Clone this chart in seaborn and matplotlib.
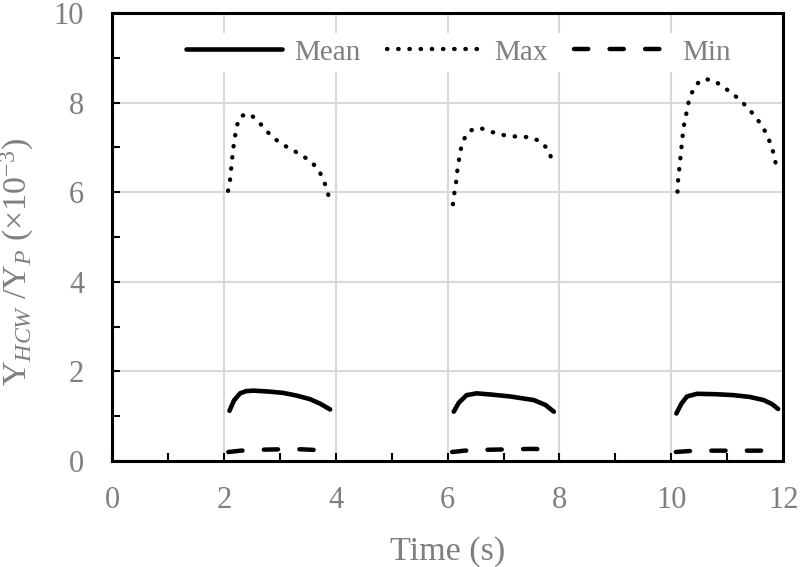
import pandas as pd
import matplotlib
matplotlib.use("Agg")
import matplotlib.pyplot as plt
from matplotlib.lines import Line2D
from matplotlib.ticker import MultipleLocator
import seaborn as sns

# Max curves (three injection pulses)
max_time = [
    [2.075, 2.11, 2.13, 2.15, 2.17, 2.20, 2.23, 2.30, 2.46, 2.61, 2.74, 2.87,
     3.03, 3.20, 3.36, 3.53, 3.67, 3.76, 3.83, 3.88],
    [6.095, 6.12, 6.15, 6.17, 6.20, 6.23, 6.28, 6.39, 6.57, 6.75, 6.94, 7.12,
     7.32, 7.51, 7.69, 7.81, 7.87],
    [10.11, 10.12, 10.14, 10.16, 10.18, 10.20, 10.22, 10.26, 10.29, 10.35, 10.43,
     10.57, 10.75, 10.91, 11.07, 11.22, 11.36, 11.48, 11.60, 11.70, 11.77, 11.83, 11.87],
]
max_vals = [
    [6.03, 6.27, 6.52, 6.77, 7.00, 7.25, 7.48, 7.70, 7.75, 7.59, 7.40, 7.23,
     7.08, 6.96, 6.85, 6.71, 6.54, 6.34, 6.11, 5.88],
    [5.73, 5.97, 6.21, 6.45, 6.69, 6.93, 7.16, 7.37, 7.44, 7.36, 7.29, 7.25,
     7.24, 7.22, 7.11, 6.92, 6.70],
    [6.01, 6.25, 6.50, 6.74, 6.99, 7.23, 7.46, 7.69, 7.93, 8.17, 8.39,
     8.53, 8.50, 8.37, 8.22, 8.07, 7.89, 7.72, 7.52, 7.31, 7.09, 6.86, 6.62],
]

# Mean curves
mean_time = [
    [2.10, 2.18, 2.29, 2.40, 2.53, 2.80, 3.06, 3.30, 3.54, 3.72, 3.90],
    [6.11, 6.20, 6.34, 6.52, 6.80, 7.12, 7.54, 7.75, 7.90],
    [10.09, 10.18, 10.28, 10.46, 10.80, 11.11, 11.40, 11.65, 11.80, 11.91],
]
mean_vals = [
    [1.12, 1.35, 1.51, 1.56, 1.57, 1.55, 1.52, 1.46, 1.38, 1.28, 1.15],
    [1.10, 1.30, 1.47, 1.51, 1.48, 1.44, 1.36, 1.25, 1.10],
    [1.06, 1.28, 1.44, 1.50, 1.49, 1.47, 1.43, 1.36, 1.27, 1.16],
]

# Min curves
min_time = [
    [2.08, 2.30, 2.60, 3.00, 3.40, 3.72],
    [6.08, 6.30, 6.70, 7.10, 7.50, 7.78],
    [10.08, 10.30, 10.70, 11.10, 11.50, 11.85],
]
min_vals = [
    [0.20, 0.23, 0.25, 0.26, 0.26, 0.24],
    [0.20, 0.23, 0.25, 0.26, 0.27, 0.26],
    [0.20, 0.22, 0.23, 0.23, 0.23, 0.23],
]

rows = []
for stat, times, vals in [("Mean", mean_time, mean_vals),
                          ("Max", max_time, max_vals),
                          ("Min", min_time, min_vals)]:
    for seg, (ts, vs) in enumerate(zip(times, vals)):
        for t, v in zip(ts, vs):
            rows.append({"time": t, "value": v, "stat": stat, "seg": seg})
df = pd.DataFrame(rows)

sns.set_theme(style="white")
plt.rcParams["font.family"] = ["Liberation Serif", "DejaVu Serif"]
plt.rcParams["mathtext.fontset"] = "custom"
plt.rcParams["mathtext.rm"] = "Liberation Serif"
plt.rcParams["mathtext.it"] = "Liberation Serif:italic"

gray = "#7f7f7f"
styles = {
    "Mean": dict(ls="-", lw=3.3),
    "Max": dict(ls=(0, (0.1, 2.5)), lw=3.1),
    "Min": dict(ls=(0, (3.2, 4.8)), lw=3.2),
}

fig = plt.figure(figsize=(8, 5.67), dpi=100)
ax = fig.add_axes([0.14, 0.187, 0.839, 0.79])

for (stat, seg), part in df.groupby(["stat", "seg"], sort=False):
    sns.lineplot(data=part, x="time", y="value", ax=ax, color="black",
                 estimator=None, sort=False, linewidth=styles[stat]["lw"],
                 linestyle=styles[stat]["ls"], solid_capstyle="round",
                 dash_capstyle="round", legend=False)

ax.set_xlim(0, 12)
ax.set_ylim(0, 10)
ax.xaxis.set_major_locator(MultipleLocator(2))
ax.xaxis.set_minor_locator(MultipleLocator(1))
ax.yaxis.set_major_locator(MultipleLocator(2))
ax.yaxis.set_minor_locator(MultipleLocator(1))
ax.grid(True, which="major", color="#d9d9d9", linewidth=1.5)
ax.set_axisbelow(True)

ax.tick_params(axis="both", which="both", direction="in", length=6, width=1.5,
               colors="black", labelcolor=gray, labelsize=22)
ax.tick_params(axis="x", which="both", bottom=True, top=False, pad=18)
ax.tick_params(axis="y", which="both", left=True, right=False, pad=20)
for sp in ax.spines.values():
    sp.set_color("black")
    sp.set_linewidth(2.2)

ax.set_xlabel("Time (s)", fontsize=24.5, color=gray)
ax.xaxis.set_label_coords(0.5, -0.167)
ax.set_ylabel(r"Y$_{\mathit{HCW}}$ /Y$_{\mathit{P}}$ (×10$^{-3}$)",
              fontsize=24.5, color=gray)
ax.yaxis.set_label_coords(-0.113, 0.445)

handles = [Line2D([], [], color="black", lw=styles[s]["lw"], ls=styles[s]["ls"],
                  solid_capstyle="round", dash_capstyle="round")
           for s in ["Mean", "Max", "Min"]]
leg = ax.legend(handles, ["Mean", "Max", "Min"], loc="center",
                bbox_to_anchor=(0.516, 0.912), ncol=3, fontsize=21,
                frameon=True, facecolor="white", edgecolor="none", framealpha=1,
                handlelength=3.3, handletextpad=0.4, columnspacing=0.9,
                borderpad=0.2, fancybox=False)
for txt in leg.get_texts():
    txt.set_color(gray)

fig.savefig("out.png", dpi=100)
